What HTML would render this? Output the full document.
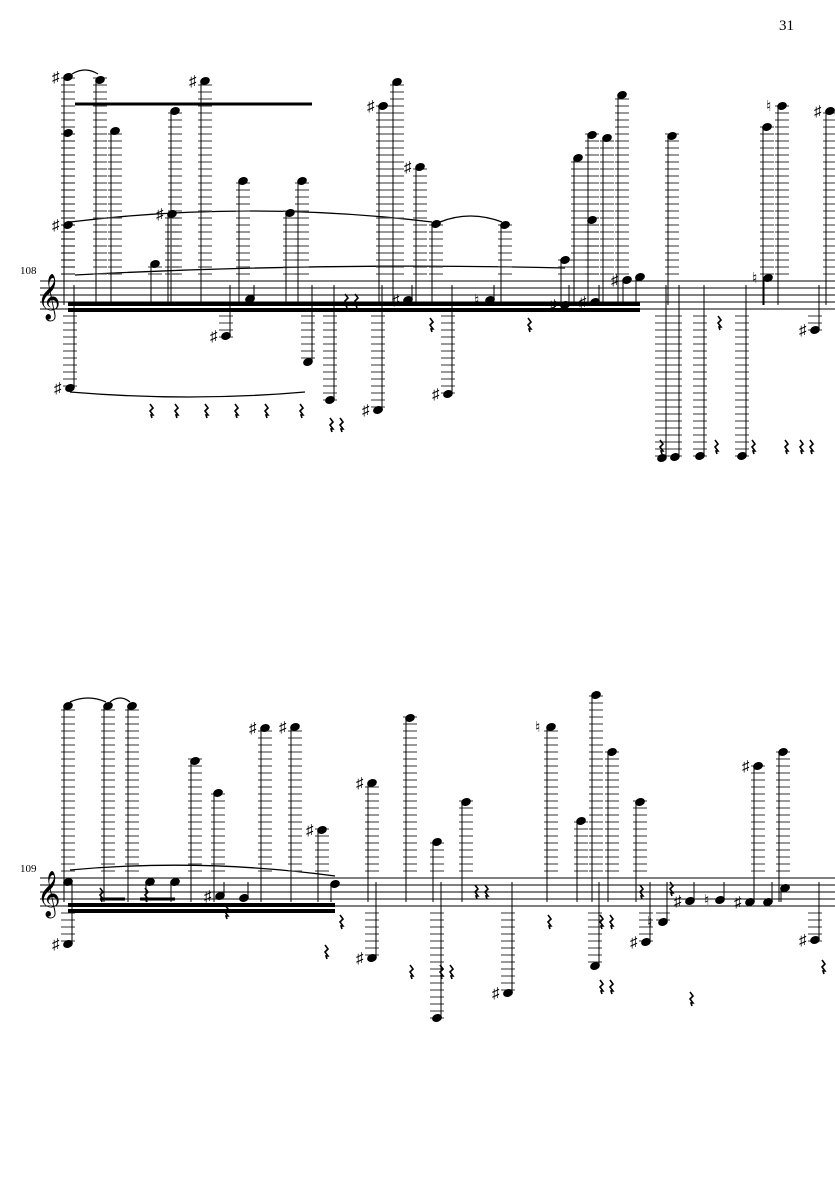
<!DOCTYPE html>
<html><head><meta charset="utf-8"><style>
html,body{margin:0;padding:0;background:#fff;width:835px;height:1181px;overflow:hidden}
svg{display:block}
text{font-family:"Liberation Serif",serif;fill:#000}
</style></head><body>
<svg id="s" width="835" height="1181" xmlns="http://www.w3.org/2000/svg">
<text x="779" y="30" font-size="15">31</text>
<text x="20" y="274" font-size="11">108</text>
<text x="20" y="872" font-size="11">109</text>
<g fill="none" stroke="#000" stroke-width="1.3">
<path d="M70 222 Q250 200 432 222"/>
<path d="M440 222 Q470 210 502 222"/>
<path d="M75 275 Q320 262 565 268"/>
<path d="M72 74 Q85 66 98 74"/>
<path d="M70 392 Q190 402 305 392"/>
<path d="M70 702 Q88 694 106 702"/>
<path d="M110 702 Q120 694 130 702"/>
<path d="M70 870 Q200 858 335 876"/>
</g>
<g id="g"></g>
</svg>
<script>
var g=document.getElementById('g'),h='';
function L(x1,y1,x2,y2,w,c){h+='<line x1="'+x1+'" y1="'+y1+'" x2="'+x2+'" y2="'+y2+'" stroke="'+(c||'#000')+'" stroke-width="'+(w||1)+'"/>';}
function staff(t){for(var i=0;i<5;i++)L(40,t+i*7,835,t+i*7,0.9);
 h+='<text x="37" y="'+(t+29)+'" font-size="40" font-family="DejaVu Sans">𝄞</text>';}
function note(x,y,t,acc,sy){
 var b=t+28;
 if(y<t){for(var ly=t-7;ly>=y-2;ly-=7)L(x-7,ly,x+7,ly,1.2,'#555');}
 if(y>b){for(var ly=b+7;ly<=y+2;ly+=7)L(x-7,ly,x+7,ly,1.2,'#555');}
 h+='<ellipse cx="'+x+'" cy="'+y+'" rx="5" ry="3.8" transform="rotate(-20 '+x+' '+y+')"/>';
 var sx=y<t+14?x-4:x+4;
 L(sx,y,sx,sy!==undefined?sy:(y<t+14?t+24:t+4),1);
 if(acc)h+='<text x="'+(x-16)+'" y="'+(y+5)+'" font-size="15" font-family="DejaVu Sans">'+acc+'</text>';
}
function rest(x,y){h+='<path d="M'+x+' '+y+' l3 4 l-3 3 l3 4 l-2 0 l1 3" fill="none" stroke="#000" stroke-width="1.6"/>';}
var T1=281,T2=878;staff(T1);staff(T2);
[[68,77,'♯'],[100,80],[68,133],[115,131],[175,111],[205,81,'♯'],[172,214,'♯'],[68,225,'♯'],[243,181],[155,264],[290,213],[302,181],[250,299],
[383,106,'♯'],[397,82],[420,167,'♯'],[436,224],[505,225],[565,260],[578,158],[592,135],[592,220],[607,138],[622,95],[627,280,'♯'],[640,277],
[672,136],[767,127],[782,106,'♮'],[830,111,'♯'],[768,278,'♮'],[595,302,'♯'],[565,305,'♯'],[408,300,'♯'],[490,300,'♮']].forEach(function(n){note(n[0],n[1],T1,n[2]);});
[[70,388,'♯'],[226,336,'♯'],[308,362],[330,400],[378,410,'♯'],[448,394,'♯'],[662,458],[675,457],[700,456],[742,456],[815,330,'♯']].forEach(function(n){note(n[0],n[1],T1,n[2]);});
L(68,304,640,304,4);L(68,310,640,310,4);L(75,104,312,104,3);
rest(150,404);rest(175,404);rest(205,404);rest(235,404);rest(265,404);rest(300,404);rest(330,418);rest(340,418);rest(345,294);rest(355,294);
rest(430,318);rest(528,318);rest(660,440);rest(715,440);rest(752,440);rest(785,440);rest(800,440);rest(810,440);rest(718,316);
[[68,706],[108,706],[132,706],[195,761],[218,793],[265,728,'♯'],[295,727,'♯'],[322,830,'♯'],[372,783,'♯'],[410,718],[437,842],[466,802],
[551,727,'♮'],[581,821],[596,695],[612,752],[640,802],[758,766,'♯'],[783,752],[68,882],[150,882],[175,882],[335,884],
[220,896,'♯'],[244,898],[663,922,'♮'],[690,901,'♯'],[720,900,'♮'],[750,902,'♯'],[768,902],[785,888],[815,940,'♯']].forEach(function(n){note(n[0],n[1],T2,n[2]);});
[[68,944,'♯'],[372,958,'♯'],[437,1018],[508,993,'♯'],[595,966],[646,942,'♯']].forEach(function(n){note(n[0],n[1],T2,n[2]);});
L(68,905,335,905,4);L(68,911,335,911,4);L(100,899,125,899,3);L(140,899,175,899,3);
rest(100,888);rest(145,888);rest(225,905);rest(340,915);rest(325,945);rest(410,965);rest(440,965);rest(450,965);rest(475,885);rest(485,885);
rest(548,915);rest(600,915);rest(610,915);rest(670,882);rest(640,885);rest(600,980);rest(610,980);rest(690,992);rest(822,960);
g.innerHTML=h;
</script>
</body></html>
